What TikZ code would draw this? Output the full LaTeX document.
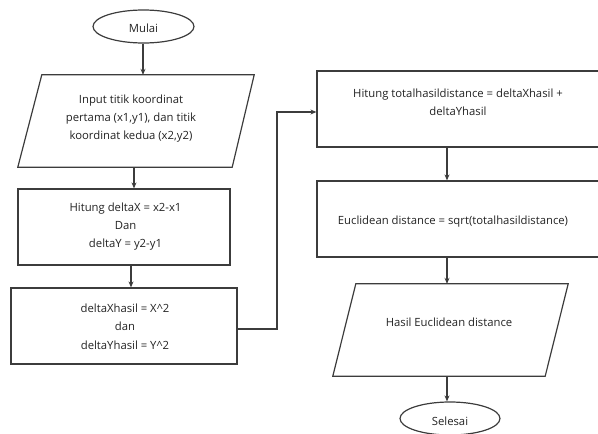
\documentclass[tikz,border=0pt]{standalone}
\usepackage{fontspec}
\setmainfont{Open Sans}
\usetikzlibrary{shapes.geometric,arrows.meta}
\definecolor{ln}{HTML}{3C3C3C}
\definecolor{tx}{HTML}{222222}
\tikzset{
  shapeline/.style={draw=ln, line width=1.2pt},
  boxnode/.style={shapeline, rectangle, inner sep=0pt},
  ghost/.style={rectangle, inner sep=0pt},
  term/.style={shapeline, ellipse, inner sep=0pt, minimum width=101pt, minimum height=33pt},
  txt/.style={text=tx, align=center, inner sep=0pt, font=\fontsize{11.3}{18.3}\selectfont},
  arr/.style={draw=ln, line width=1.1pt, -{Stealth[length=6pt,width=5pt]}},
}
\begin{document}
\begin{tikzpicture}[x=1pt,y=-1pt]
\useasboundingbox (0,0) rectangle (598,434);
\begin{scope}
\clip (0,0) rectangle (598,434);
% Start
\node[term] (mulai) at (143.5,26.5) {};
\node[txt] (mulait) at (143.5,28) {Mulai};
% Input parallelogram
\node[ghost, minimum width=236pt, minimum height=92pt] (p1) at (136,121) {};
\draw[shapeline] ([xshift=24pt]p1.north west) -- (p1.north east) -- ([xshift=-22pt]p1.south east) -- (p1.south west) -- cycle;
\node[txt] (p1t) at (131,118.5) {Input titik koordinat\\pertama (x1,y1), dan titik\\koordinat kedua (x2,y2)};
% Box 1
\node[boxnode, minimum width=212pt, minimum height=76pt] (b1) at (124,227) {};
\node[txt] (b1t) at (125.5,226.5) {Hitung deltaX = x2-x1\\Dan\\deltaY = y2-y1};
% Box 2
\node[boxnode, minimum width=226pt, minimum height=76pt] (b2) at (124,326) {};
\node[txt] (b2t) at (125,326.5) {deltaXhasil = X\^{}2\\dan\\deltaYhasil = Y\^{}2};
% Box 3
\node[boxnode, minimum width=300pt, minimum height=76pt] (b3) at (467,109) {};
\node[txt] (b3t) at (458,102) {Hitung totalhasildistance = deltaXhasil +\\deltaYhasil};
% Box 4
\node[boxnode, minimum width=300pt, minimum height=76pt] (b4) at (467,219) {};
\node[txt] (b4t) at (453,222) {Euclidean distance = sqrt(totalhasildistance)};
% Output parallelogram
\node[ghost, minimum width=235pt, minimum height=92pt] (p2) at (450.5,330) {};
\draw[shapeline] ([xshift=23pt]p2.north west) -- (p2.north east) -- ([xshift=-23pt]p2.south east) -- (p2.south west) -- cycle;
\node[txt] (p2t) at (449,322) {Hasil Euclidean distance};
% End
\node[term, minimum width=100pt] (selesai) at (450,418.5) {};
\node[txt] (selesait) at (450,421.5) {Selesai};
% Connectors
\coordinate (a0) at ([xshift=-0.5pt]mulai.south);
\draw[arr] (a0) -- (a0 |- p1.north);
\coordinate (a1) at ([xshift=10pt]b1.north);
\draw[arr] (a1 |- p1.south) -- (a1);
\coordinate (a2) at ([xshift=7pt]b2.north);
\draw[arr] (a2 |- b1.south) -- (a2);
\coordinate (c1) at ([yshift=-3pt]b2.east);
\coordinate (c2) at ([yshift=-3pt]b3.west);
\coordinate (bend) at (277,0);
\draw[arr] (c1) -| (bend |- c2) -- (c2);
\coordinate (ax) at (447,0);
\draw[arr] (ax |- b3.south) -- (ax |- b4.north);
\draw[arr] (ax |- b4.south) -- (ax |- p2.north);
\draw[arr] (ax |- p2.south) -- (ax |- selesai.north);
\end{scope}
\end{tikzpicture}
\end{document}
